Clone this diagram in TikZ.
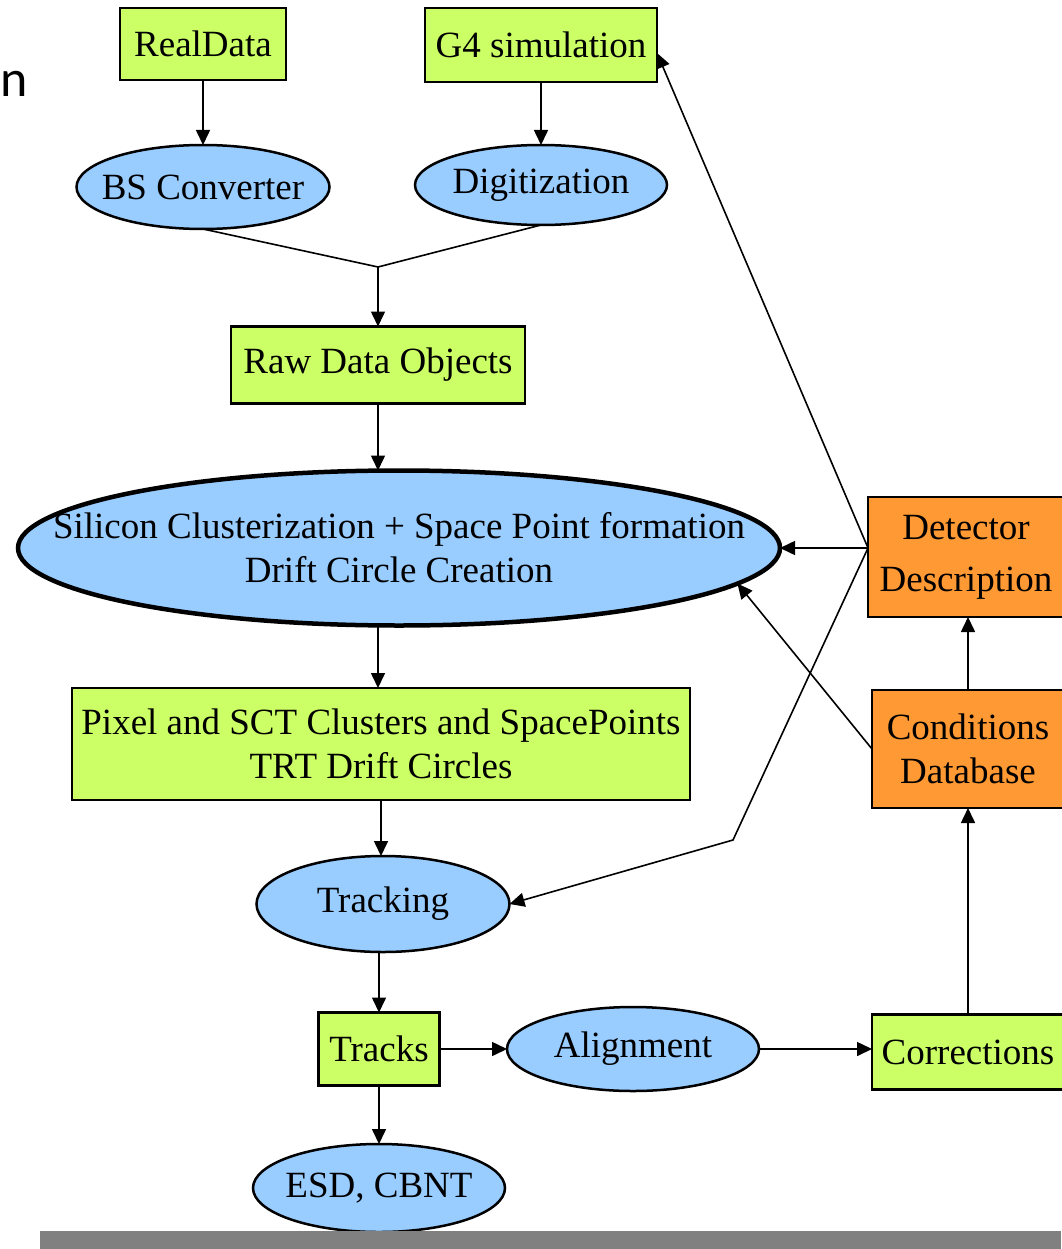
\documentclass[tikz,border=0pt]{standalone}
\usepackage{fontspec}
\setmainfont{Liberation Serif}
\newfontfamily\slidefont{Carlito}
\usetikzlibrary{shapes.geometric,arrows.meta}
\definecolor{boxgreen}{RGB}{204,255,102}
\definecolor{ellblue}{RGB}{153,204,255}
\definecolor{boxorange}{RGB}{255,153,51}
\definecolor{bargray}{RGB}{128,128,128}
\begin{document}
\begin{tikzpicture}[x=1pt,y=-1pt,
  every node/.style={font=\fontsize{37}{44}\selectfont, inner sep=0pt, outer sep=0pt},
  gbox/.style={draw, line width=2.5pt, fill=boxgreen, rectangle, align=center},
  obox/.style={draw, line width=2.5pt, fill=boxorange, rectangle, align=center},
  ell/.style={draw, line width=2.5pt, fill=ellblue, ellipse, align=center, inner xsep=-40pt, inner ysep=-5pt},
  conn/.style={line width=1.6pt, -{Triangle[length=15pt,width=14pt]}},
  plainline/.style={line width=1.6pt}]
\useasboundingbox (0,0) rectangle (1061,1249);
\fill[white] (0,0) rectangle (1061,1249);

\node[font=\slidefont\fontsize{52}{60}\selectfont, anchor=base west] (ntext) at (0,97) {n};

\node[gbox, minimum width=166pt, minimum height=72pt] (real) at (203,44) {RealData};
\node[gbox, minimum width=232pt, minimum height=74pt] (g4) at (541,45) {G4 simulation};
\node[ell, minimum width=253pt, minimum height=84pt] (bs) at (203,187) {BS Converter};
\node[ell, minimum width=252pt, minimum height=80pt] (digi) at (541,185) {Digitization};
\node[gbox, minimum width=294pt, minimum height=77pt] (raw) at (378,365) {Raw Data Objects};
\node[ell, line width=4.5pt, inner xsep=-90pt, inner ysep=-30pt, minimum width=762pt, minimum height=155pt] (sil) at (399,548)
  {Silicon Clusterization + Space Point formation\\Drift Circle Creation};
\node[gbox, minimum width=618pt, minimum height=112pt] (pix) at (381,744)
  {Pixel and SCT Clusters and SpacePoints\\TRT Drift Circles};
\node[ell, minimum width=253pt, minimum height=96pt] (trk) at (383,904) {Tracking};
\node[gbox, minimum width=121pt, minimum height=73pt] (tracks) at (379,1049) {Tracks};
\node[ell, minimum width=252pt, minimum height=88pt] (esd) at (379,1188) {ESD, CBNT};
\node[ell, minimum width=252pt, minimum height=84pt] (align) at (633,1049) {Alignment};
\node[gbox, minimum width=192pt, minimum height=75pt] (corr) at (968,1052) {Corrections};
\node[obox, minimum width=196pt, minimum height=120pt] (det) at (966,557) {Detector\\[8pt]Description};
\node[obox, minimum width=192pt, minimum height=118pt] (cond) at (968,749) {Conditions\\Database};

\draw[conn] (real) -- (bs);
\draw[conn] (g4) -- (digi);
\coordinate (merge) at (378,267);
\draw[plainline] (bs.south) -- (merge);
\draw[plainline] (digi.south) -- (merge);
\draw[conn] (merge) -- (raw.north);
\draw[conn] (raw.south) -- (raw.south |- sil.north);
\draw[conn] (raw.south |- sil.south) -- (raw.south |- pix.north);
\draw[conn] (pix.south) -- (pix.south |- trk.north);
\draw[conn] (tracks.north |- trk.south) -- (tracks.north);
\draw[conn] (tracks) -- (esd);
\draw[conn] (tracks) -- (align);
\draw[conn] (align.east) -- (align.east -| corr.west);
\draw[conn] (corr) -- (cond);
\draw[conn] (cond.north) -- (cond.north |- det.south);
\coordinate (hub) at ([yshift=9pt]det.west);
\draw[conn] (hub) -- (sil.east);
\draw[conn] (hub) -- ([yshift=-8pt]g4.east);
\coordinate (bend) at (733,840);
\draw[conn] (hub) -- (bend) -- (trk.east);
\draw[conn] (cond.west) -- (sil.-6.3);

\fill[bargray] (40,1231) rectangle (1061,1249);
\end{tikzpicture}
\end{document}
